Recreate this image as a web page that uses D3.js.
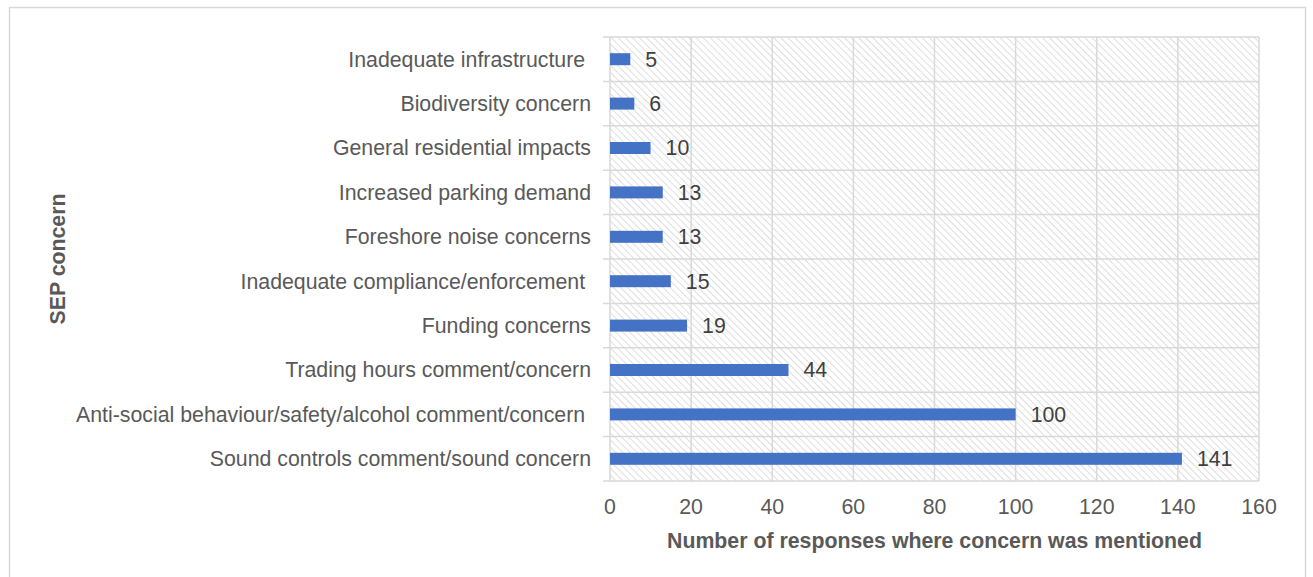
<!DOCTYPE html>
<html>
<head>
<meta charset="utf-8">
<script src="https://cdn.jsdelivr.net/npm/d3@7"></script>
<style>
  html, body { margin: 0; padding: 0; background: #fff; }
  svg text { font-family: "Liberation Sans", Arial, sans-serif; white-space: pre; }
</style>
</head>
<body>
<svg id="chart" width="1313" height="577"></svg>
<script>
// Concern categories (top to bottom) and number of responses mentioning each
const categories = [
  "Inadequate infrastructure ",
  "Biodiversity concern",
  "General residential impacts",
  "Increased parking demand",
  "Foreshore noise concerns",
  "Inadequate compliance/enforcement ",
  "Funding concerns",
  "Trading hours comment/concern",
  "Anti-social behaviour/safety/alcohol comment/concern ",
  "Sound controls comment/sound concern"
];
const responses = [5, 6, 10, 13, 13, 15, 19, 44, 100, 141];
const xTicks = [0, 20, 40, 60, 80, 100, 120, 140, 160];

const xTitle = "Number of responses where concern was mentioned";
const yTitle = "SEP concern";

const svg = d3.select("#chart");
const plot = { left: 610, right: 1259, top: 37, bottom: 481 };
const FS = 21.3;

// outer chart frame
svg.append("rect")
  .attr("x", 9.5).attr("y", 7.5)
  .attr("width", 1296).attr("height", 600)
  .attr("fill", "#fff").attr("stroke", "#d9d9d9").attr("stroke-width", 1.5);

// diagonal hatch for the plot background (lines running top-left to bottom-right)
const defs = svg.append("defs");
const pat = defs.append("pattern")
  .attr("id", "hatch")
  .attr("patternUnits", "userSpaceOnUse")
  .attr("width", 5).attr("height", 5)
  .attr("patternTransform", "rotate(-45)");
pat.append("rect").attr("width", 5).attr("height", 5).attr("fill", "#fff");
pat.append("line")
  .attr("x1", 0).attr("y1", 0).attr("x2", 0).attr("y2", 5)
  .attr("stroke", "#d6d6d6").attr("stroke-width", 1.6);

const x = d3.scaleLinear().domain([0, 160]).range([plot.left, plot.right]);
const y = d3.scaleBand().domain(categories).range([plot.top, plot.bottom]).paddingInner(0.73).paddingOuter(0.365);
const yGrid = d3.scaleBand().domain(categories).range([plot.top, plot.bottom]);

svg.append("rect")
  .attr("x", plot.left).attr("y", plot.top)
  .attr("width", plot.right - plot.left).attr("height", plot.bottom - plot.top)
  .attr("fill", "url(#hatch)");

// vertical gridlines
svg.append("g").selectAll("line")
  .data(xTicks)
  .join("line")
  .attr("x1", d => x(d)).attr("x2", d => x(d))
  .attr("y1", plot.top).attr("y2", plot.bottom)
  .attr("stroke", "#d9d9d9").attr("stroke-width", 1.5);

// horizontal category separators (extend left as tick marks)
const seps = categories.map(c => yGrid(c)).concat([plot.bottom]);
svg.append("g").selectAll("line")
  .data(seps)
  .join("line")
  .attr("x1", plot.left - 7).attr("x2", plot.right)
  .attr("y1", d => d).attr("y2", d => d)
  .attr("stroke", "#d9d9d9").attr("stroke-width", 1.5);

// bars
svg.append("g").selectAll("rect")
  .data(categories)
  .join("rect")
  .attr("x", x(0))
  .attr("y", c => y(c))
  .attr("width", (c, i) => x(responses[i]) - x(0))
  .attr("height", y.bandwidth())
  .attr("fill", "#4472c4");

// value labels
svg.append("g").selectAll("text")
  .data(categories)
  .join("text")
  .attr("x", (c, i) => x(responses[i]) + 15)
  .attr("y", c => y(c) + y.bandwidth() / 2)
  .attr("dy", "0.35em")
  .attr("font-size", FS)
  .attr("fill", "#404040")
  .text((c, i) => responses[i]);

// category labels
svg.append("g").selectAll("text")
  .data(categories)
  .join("text")
  .attr("x", plot.left - 19)
  .attr("y", c => y(c) + y.bandwidth() / 2)
  .attr("dy", "0.35em")
  .attr("text-anchor", "end")
  .attr("font-size", FS)
  .attr("fill", "#595959")
  .text(c => c);

// x tick labels
svg.append("g").selectAll("text")
  .data(xTicks)
  .join("text")
  .attr("x", d => x(d))
  .attr("y", 507)
  .attr("dy", "0.35em")
  .attr("text-anchor", "middle")
  .attr("font-size", FS)
  .attr("fill", "#595959")
  .text(d => d);

// axis titles
svg.append("text")
  .attr("x", (plot.left + plot.right) / 2)
  .attr("y", 541)
  .attr("dy", "0.35em")
  .attr("text-anchor", "middle")
  .attr("font-size", FS)
  .attr("font-weight", "bold")
  .attr("fill", "#595959")
  .text(xTitle);

svg.append("text")
  .attr("transform", `translate(58,${(plot.top + plot.bottom) / 2}) rotate(-90)`)
  .attr("dy", "0.35em")
  .attr("text-anchor", "middle")
  .attr("font-size", FS)
  .attr("font-weight", "bold")
  .attr("fill", "#595959")
  .text(yTitle);
</script>
</body>
</html>
